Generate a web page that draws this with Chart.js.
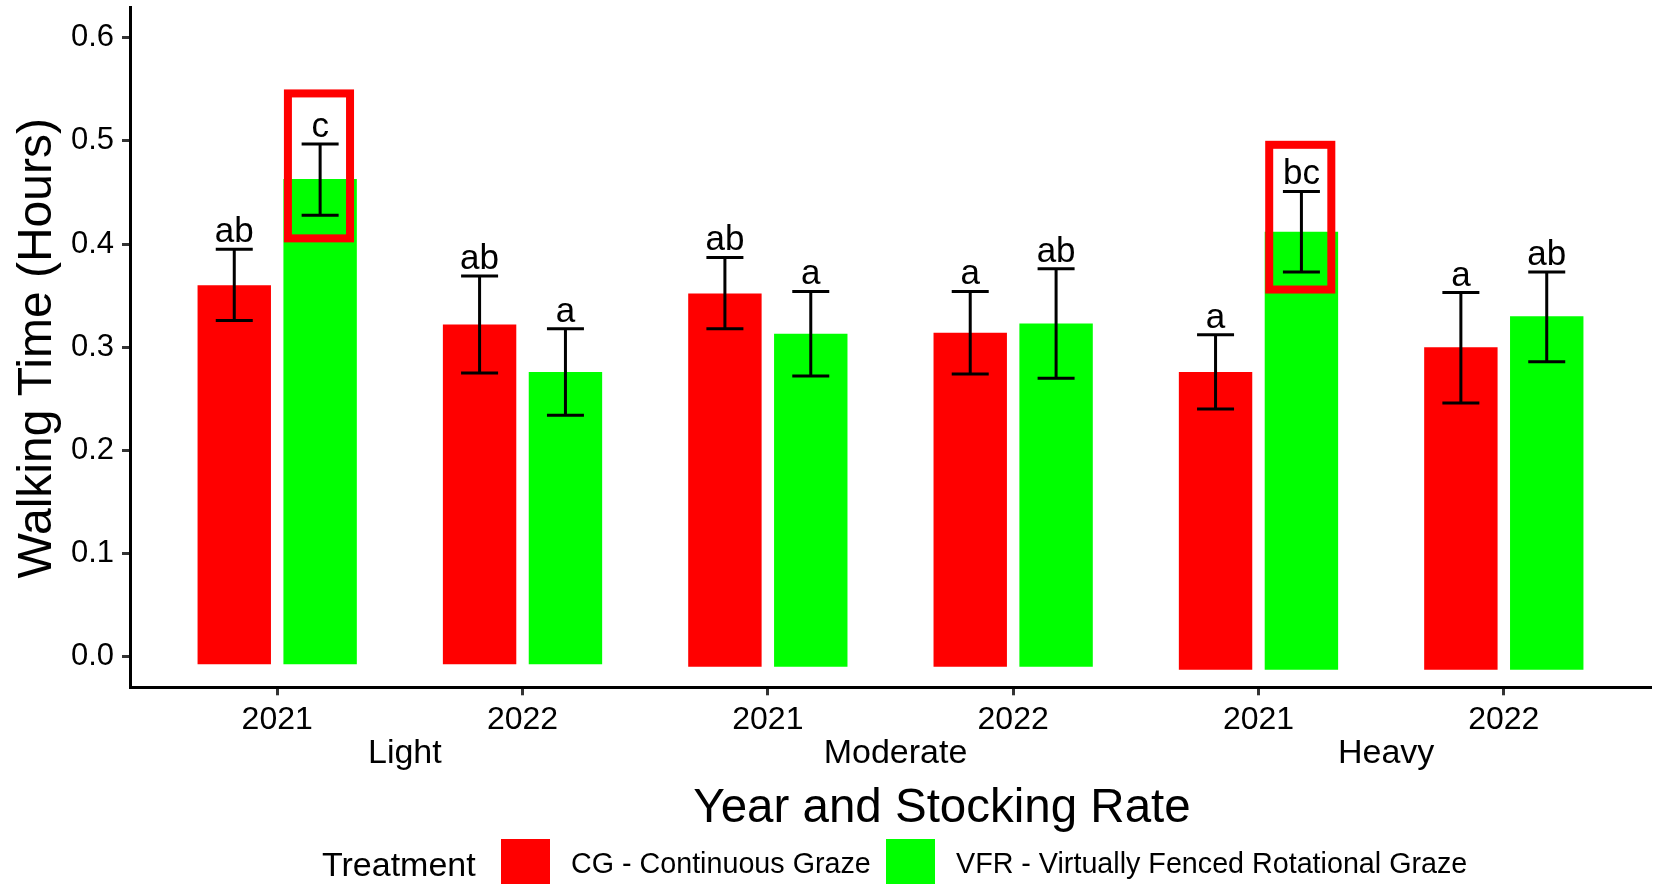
<!DOCTYPE html>
<html>
<head>
<meta charset="utf-8">
<script src="https://cdn.jsdelivr.net/npm/chart.js@4.4.1/dist/chart.umd.min.js"></script>
<style>
  html, body { margin: 0; padding: 0; background: #ffffff; overflow: hidden; }
  canvas { display: block; }
</style>
</head>
<body>
<canvas id="chart" width="1657" height="884"></canvas>
<script>
// Walking time by year and stocking rate, CG vs VFR treatment
const yearLabels = ['2021', '2022', '2021', '2022', '2021', '2022'];
const stockingRates = ['Light', 'Moderate', 'Heavy'];
const seriesNames = ['CG - Continuous Graze', 'VFR - Virtually Fenced Rotational Graze'];

const cgMean  = [0.360, 0.322, 0.352, 0.314, 0.276, 0.300];
const cgUpper = [0.395, 0.369, 0.387, 0.354, 0.312, 0.353];
const cgLower = [0.326, 0.275, 0.318, 0.274, 0.240, 0.246];
const cgLetters = ['ab', 'ab', 'ab', 'a', 'a', 'a'];

const vfrMean  = [0.463, 0.276, 0.313, 0.323, 0.412, 0.330];
const vfrUpper = [0.497, 0.318, 0.354, 0.376, 0.451, 0.373];
const vfrLower = [0.428, 0.234, 0.272, 0.270, 0.373, 0.286];
const vfrLetters = ['c', 'a', 'a', 'ab', 'bc', 'ab'];

// bar baselines sit slightly below zero
const barBase = [-0.0074, -0.0074, -0.0097, -0.0097, -0.0126, -0.0126];

// highlighted significance groups (VFR bars)
const highlightIndex = [0, 4];
const highlightLow  = [0.4055, 0.3559];
const highlightHigh = [0.5460, 0.4962];

const yTickLabels = ['0.0', '0.1', '0.2', '0.3', '0.4', '0.5', '0.6'];

const FONT = '"Liberation Sans", Arial, Helvetica, sans-serif';
const RED = '#FF0000';
const GREEN = '#00FF00';

const errorBars = [
  { upper: cgUpper, lower: cgLower, letters: cgLetters },
  { upper: vfrUpper, lower: vfrLower, letters: vfrLetters }
];

const decorations = {
  id: 'decorations',
  afterDatasetsDraw(chart) {
    const ctx = chart.ctx;
    const yScale = chart.scales.y;
    ctx.save();
    // error bars and letter groups
    errorBars.forEach((eb, d) => {
      const meta = chart.getDatasetMeta(d);
      meta.data.forEach((bar, i) => {
        const x = bar.x;
        const yHi = yScale.getPixelForValue(eb.upper[i]);
        const yLo = yScale.getPixelForValue(eb.lower[i]);
        const half = 18.5;
        ctx.strokeStyle = '#000';
        ctx.lineWidth = 3;
        ctx.lineCap = 'butt';
        ctx.beginPath();
        ctx.moveTo(x, yHi); ctx.lineTo(x, yLo);
        ctx.moveTo(x - half, yHi); ctx.lineTo(x + half, yHi);
        ctx.moveTo(x - half, yLo); ctx.lineTo(x + half, yLo);
        ctx.stroke();
        ctx.fillStyle = '#000';
        ctx.font = '35px ' + FONT;
        ctx.textAlign = 'center';
        ctx.textBaseline = 'alphabetic';
        ctx.fillText(eb.letters[i], x, yHi - 7);
      });
    });
    // highlight boxes
    const vMeta = chart.getDatasetMeta(1);
    highlightIndex.forEach((idx, k) => {
      const bar = vMeta.data[idx];
      const left = bar.x - bar.width / 2 + 4.5;
      const right = bar.x + bar.width / 2 - 6.8;
      const top = yScale.getPixelForValue(highlightHigh[k]);
      const bottom = yScale.getPixelForValue(highlightLow[k]);
      ctx.strokeStyle = RED;
      ctx.lineWidth = 8;
      ctx.lineJoin = 'miter';
      ctx.strokeRect(left, top, right - left, bottom - top);
    });
    ctx.restore();
  },
  afterDraw(chart) {
    const ctx = chart.ctx;
    const xScale = chart.scales.x;
    const area = chart.chartArea;
    ctx.save();
    ctx.fillStyle = '#000';
    ctx.textBaseline = 'alphabetic';

    // stocking rate labels under each pair of years
    ctx.font = '34px ' + FONT;
    ctx.textAlign = 'center';
    stockingRates.forEach((name, g) => {
      const cx = (xScale.getPixelForValue(2 * g) + xScale.getPixelForValue(2 * g + 1)) / 2 + 5;
      ctx.fillText(name, cx, 763);
    });

    // axis titles
    ctx.font = '47.5px ' + FONT;
    ctx.fillText('Year and Stocking Rate', 942, 822);
    ctx.save();
    ctx.font = '48px ' + FONT;
    ctx.translate(51, (area.top + area.bottom) / 2 + 1);
    ctx.rotate(-Math.PI / 2);
    ctx.fillText('Walking Time (Hours)', 0, 0);
    ctx.restore();

    // legend
    ctx.textAlign = 'left';
    ctx.font = '34px ' + FONT;
    ctx.fillText('Treatment', 322, 876);
    const items = [
      { color: chart.data.datasets[0].backgroundColor, label: chart.data.datasets[0].label, x: 501 },
      { color: chart.data.datasets[1].backgroundColor, label: chart.data.datasets[1].label, x: 886 }
    ];
    ctx.font = '28.7px ' + FONT;
    items.forEach(it => {
      ctx.fillStyle = it.color;
      ctx.fillRect(it.x, 839, 49, 49);
      ctx.fillStyle = '#000';
      ctx.fillText(it.label, it.x + 70, 873);
    });
    ctx.restore();
  }
};

const toPoints = (base, vals) => vals.map((v, i) => ({ x: i, y: [base[i], v] }));

new Chart(document.getElementById('chart'), {
  type: 'bar',
  data: {
    datasets: [
      { label: seriesNames[0], data: toPoints(barBase, cgMean), backgroundColor: RED, borderWidth: 0 },
      { label: seriesNames[1], data: toPoints(barBase, vfrMean), backgroundColor: GREEN, borderWidth: 0 }
    ]
  },
  options: {
    responsive: false,
    animation: false,
    devicePixelRatio: 1,
    categoryPercentage: 0.70,
    barPercentage: 0.855,
    layout: { padding: { top: 7.3, right: 6, left: 0, bottom: 0 } },
    plugins: { legend: { display: false }, tooltip: { enabled: false } },
    scales: {
      x: {
        type: 'linear',
        min: -0.6,
        max: 5.6,
        offset: false,
        border: { display: true, color: '#000', width: 3 },
        grid: { display: true, offset: false, drawOnChartArea: false, drawTicks: true, tickLength: 8, tickWidth: 3, tickColor: '#333' },
        ticks: {
          stepSize: 1,
          includeBounds: false,
          autoSkip: false,
          maxRotation: 0,
          padding: 6,
          color: '#000',
          font: { family: FONT, size: 32 },
          callback: (v) => yearLabels[v] ?? ''
        },
        afterFit: (s) => {
          s.height = 884 - 687.3;
          s.paddingLeft = 0; s.paddingRight = 0;
        }
      },
      y: {
        type: 'linear',
        min: -0.0297,
        max: 0.6295,
        border: { display: true, color: '#000', width: 3 },
        grid: { display: true, drawOnChartArea: false, drawTicks: true, tickLength: 8, tickWidth: 3, tickColor: '#333' },
        ticks: {
          stepSize: 0.1,
          includeBounds: false,
          padding: 8,
          color: '#000',
          font: { family: FONT, size: 31 },
          callback: (v) => yTickLabels[Math.round(v * 10)] ?? ''
        },
        afterFit: (s) => {
          s.width = 130;
          s.paddingTop = 0; s.paddingBottom = 0;
        }
      }
    }
  },
  plugins: [decorations]
});
</script>
</body>
</html>
